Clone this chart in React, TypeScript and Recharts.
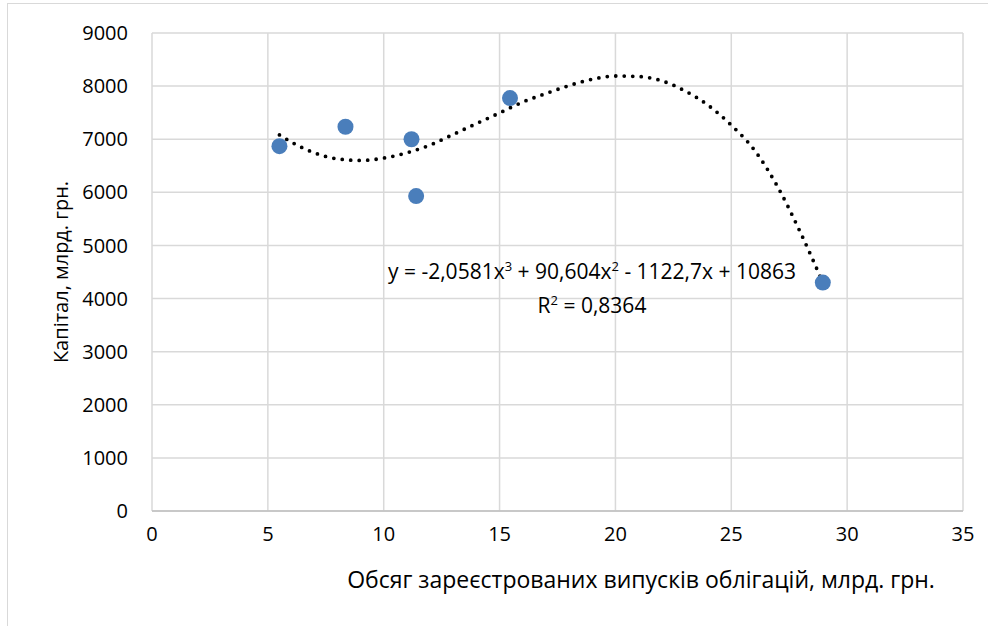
import React from "react";
import { ComposedChart, Scatter, Line, XAxis, YAxis, CartesianGrid } from "recharts";

// observed points: bond issues volume vs capital
const volume = [5.5, 8.35, 11.2, 11.4, 15.45, 28.95];
const capital = [6870, 7235, 7000, 5930, 7775, 4300];

// dotted polynomial trendline
const trendX = [5.5, 6, 7, 8, 9, 10, 11, 12, 13, 14, 15, 16, 17, 18, 19, 20, 21, 22, 23, 24, 25, 26, 27, 28, 28.95];
const trendY = [7080, 6950, 6745, 6630, 6600, 6645, 6745, 6890, 7090, 7295, 7495, 7700, 7860, 8010, 8130, 8190, 8180, 8100, 7910, 7640, 7265, 6795, 6105, 5230, 4300];

const xTicks = [0, 5, 10, 15, 20, 25, 30, 35];
const yTicks = [0, 1000, 2000, 3000, 4000, 5000, 6000, 7000, 8000, 9000];

const points = volume.map((x, i) => ({ x, y: capital[i] }));
const trend = trendX.map((x, i) => ({ x, y: trendY[i] }));

const font = "'Open Sans', sans-serif";
const tickStyle = { fill: "#000", fontSize: 20, fontFamily: font };

export default function App() {
  return (
    <div
      style={{
        position: "absolute",
        left: 0,
        top: 0,
        width: 988,
        height: 626,
        overflow: "hidden",
        background: "#fff",
        fontFamily: font,
      }}
    >
      {/* chart frame, cut off at right and bottom */}
      <div
        style={{
          position: "absolute",
          left: 7,
          top: 3,
          width: 1100,
          height: 800,
          borderLeft: "1.5px solid #d9d9d9",
          borderTop: "1.5px solid #d9d9d9",
        }}
      />
      <div style={{ position: "absolute", left: 0, top: 0 }}>
        <ComposedChart width={988} height={626} margin={{ top: 33, right: 25, bottom: 75, left: 0 }}>
          <CartesianGrid stroke="#d9d9d9" strokeWidth={1.5} />
          <XAxis
            type="number"
            dataKey="x"
            domain={[0, 35]}
            ticks={xTicks}
            height={40}
            tickLine={false}
            tickSize={0}
            tickMargin={16}
            axisLine={{ stroke: "#bfbfbf", strokeWidth: 1.5 }}
            tick={tickStyle}
            allowDataOverflow
          />
          <YAxis
            type="number"
            dataKey="y"
            domain={[0, 9000]}
            ticks={yTicks}
            width={152}
            tickLine={false}
            tickSize={0}
            tickMargin={24}
            axisLine={false}
            tick={tickStyle}
            allowDataOverflow
          />
          <Scatter
            data={points}
            isAnimationActive={false}
            shape={(p: any) => <circle cx={p.cx} cy={p.cy} r={8} fill="#4a7ebb" />}
          />
          <Line
            data={trend}
            dataKey="y"
            type="monotone"
            stroke="#000"
            strokeWidth={3.8}
            strokeDasharray="0 8.5"
            strokeLinecap="round"
            dot={false}
            activeDot={false}
            isAnimationActive={false}
          />
        </ComposedChart>
      </div>
      {/* axis titles */}
      <div
        style={{
          position: "absolute",
          left: 60,
          top: 272,
          transform: "translate(-50%, -50%) rotate(-90deg)",
          whiteSpace: "nowrap",
          fontSize: 20,
        }}
      >
        Капітал, млрд. грн.
      </div>
      <div
        style={{
          position: "absolute",
          left: 641,
          top: 579,
          transform: "translate(-50%, -50%)",
          whiteSpace: "nowrap",
          fontSize: 23,
        }}
      >
        Обсяг зареєстрованих випусків облігацій, млрд. грн.
      </div>
      {/* trendline equation */}
      <div
        style={{
          position: "absolute",
          left: 592,
          top: 286,
          transform: "translate(-50%, -50%)",
          whiteSpace: "nowrap",
          textAlign: "center",
          fontSize: 21,
          lineHeight: "29px",
        }}
      >
        <div>
          y = -2,0581x<span style={{ fontSize: 13, verticalAlign: "super" }}>3</span> + 90,604x
          <span style={{ fontSize: 13, verticalAlign: "super" }}>2</span> - 1122,7x + 10863
        </div>
        <div>
          R<span style={{ fontSize: 13, verticalAlign: "super" }}>2</span> = 0,8364
        </div>
      </div>
    </div>
  );
}
